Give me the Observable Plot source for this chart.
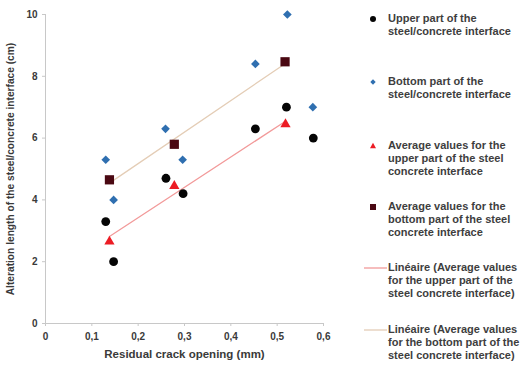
<!DOCTYPE html>
<html><head><meta charset="utf-8">
<script src="https://cdn.jsdelivr.net/npm/d3@7"></script>
<script src="https://cdn.jsdelivr.net/npm/@observablehq/plot@0.6"></script>
<style>
body{margin:0;background:#fff;}
#wrap{position:relative;width:522px;height:367px;overflow:hidden;font-family:"Liberation Sans",Arial,sans-serif;}
#legend{position:absolute;left:0;top:0;width:522px;height:367px;pointer-events:none;}
.entry{position:absolute;left:362px;display:flex;align-items:flex-start;}
.entry svg{flex:none;margin-top:0px}
.entry .t{font-weight:bold;font-size:11px;line-height:13px;color:#3e3e3e;white-space:nowrap;margin-left:3px}
</style></head>
<body><div id="wrap"><div id="chart"></div><div id="legend"></div></div>
<script>
// Data
const upperX = [0.13, 0.147, 0.26, 0.297, 0.453, 0.52, 0.578];
const upperY = [3.3, 2.0, 4.7, 4.2, 6.3, 7.0, 6.0];
const bottomX = [0.13, 0.147, 0.259, 0.296, 0.453, 0.522, 0.577];
const bottomY = [5.3, 4.0, 6.3, 5.3, 8.4, 10.0, 7.0];
const avgUpperX = [0.138, 0.278, 0.518];
const avgUpperY = [2.65, 4.45, 6.45];
const avgBottomX = [0.138, 0.278, 0.517];
const avgBottomY = [4.65, 5.8, 8.47];
const xTicks = [0, 0.1, 0.2, 0.3, 0.4, 0.5, 0.6];
const yTicks = [0, 2, 4, 6, 8, 10];
const legendLabels = [
  "Upper part of the<br>steel/concrete interface",
  "Bottom part of the<br>steel/concrete interface",
  "Average values for the<br>upper part of the steel<br>concrete interface",
  "Average values for the<br>bottom part of the steel<br>concrete interface",
  "Linéaire (Average values<br>for the upper part of the<br>steel concrete interface)",
  "Linéaire (Average values<br>for the bottom part of the<br>steel concrete interface)"
];

const pts = (xs, ys) => xs.map((x, i) => ({x, y: ys[i]}));
const upper = pts(upperX, upperY);
const bottom = pts(bottomX, bottomY);
const avgU = pts(avgUpperX, avgUpperY);
const avgB = pts(avgBottomX, avgBottomY);

const cBlack = "#050505", cBlue = "#2f6fb0", cRed = "#ec1c24", cMaroon = "#4a0812";
const cLineU = "#f29a9a", cLineB = "#e4cdb6";
const fmt = d => String(d).replace(".", ",");

const chart = Plot.plot({
  width: 335, height: 367,
  marginLeft: 45, marginRight: 12, marginTop: 14, marginBottom: 44,
  style: {fontFamily: "'Liberation Sans', Arial, sans-serif", fontWeight: "bold", fontSize: "10px", color: "#3a3a3a", background: "white"},
  x: {domain: [0, 0.6]},
  y: {domain: [0, 10]},
  marks: [
    Plot.ruleX([0], {stroke: "#c8c8c8"}),
    Plot.ruleY([0], {stroke: "#c8c8c8"}),
    Plot.axisX({ticks: xTicks, tickFormat: fmt, tickSize: 3, tickPadding: 6, stroke: "#c8c8c8", fontSize: 10, label: null}),
    Plot.axisX({ticks: [], label: "Residual crack opening (mm)", labelAnchor: "center", labelArrow: "none", labelOffset: 34, fontSize: 11.5}),
    Plot.axisY({ticks: yTicks, tickSize: 3, tickPadding: 5, stroke: "#c8c8c8", fontSize: 10, label: null}),
    Plot.axisY({ticks: [], label: "Alteration length of the steel/concrete interface (cm)", labelAnchor: "center", labelArrow: "none", labelOffset: 39, fontSize: 10.2}),
    Plot.linearRegressionY(avgU, {x: "x", y: "y", stroke: cLineU, strokeWidth: 1.3, ci: 0}),
    Plot.linearRegressionY(avgB, {x: "x", y: "y", stroke: cLineB, strokeWidth: 1.3, ci: 0}),
    Plot.dot(upper, {x: "x", y: "y", r: 4.4, fill: cBlack, stroke: "none"}),
    Plot.dot(bottom, {x: "x", y: "y", symbol: "diamond2", r: 3.9, fill: cBlue, stroke: "none"}),
    Plot.dot(avgU, {x: "x", y: "y", symbol: "triangle", r: 3.8, fill: cRed, stroke: "none"}),
    Plot.dot(avgB, {x: "x", y: "y", symbol: "square", r: 5.2, fill: cMaroon, stroke: "none"})
  ]
});
document.getElementById("chart").appendChild(chart);

// legend
const tops = [12, 75, 139, 200, 261, 323];
const markers = [
  `<circle cx="11" cy="7" r="3" fill="${cBlack}"/>`,
  `<path d="M11 4.3 L13.7 7 L11 9.7 L8.3 7 Z" fill="${cBlue}"/>`,
  `<path d="M11 3.8 L14 9.3 L8 9.3 Z" fill="${cRed}"/>`,
  `<rect x="8" y="4" width="6" height="6" fill="${cMaroon}"/>`,
  `<line x1="2" x2="25" y1="7" y2="7" stroke="${cLineU}" stroke-width="1.3"/>`,
  `<line x1="2" x2="25" y1="7" y2="7" stroke="${cLineB}" stroke-width="1.3"/>`
];
const leg = document.getElementById("legend");
legendLabels.forEach((lab, i) => {
  const e = document.createElement("div");
  e.className = "entry";
  e.style.top = tops[i] + "px";
  e.innerHTML = `<svg width="23" height="13" viewBox="0 0 23 13" overflow="visible">${markers[i]}</svg><div class="t">${lab}</div>`;
  leg.appendChild(e);
});
</script></body></html>
